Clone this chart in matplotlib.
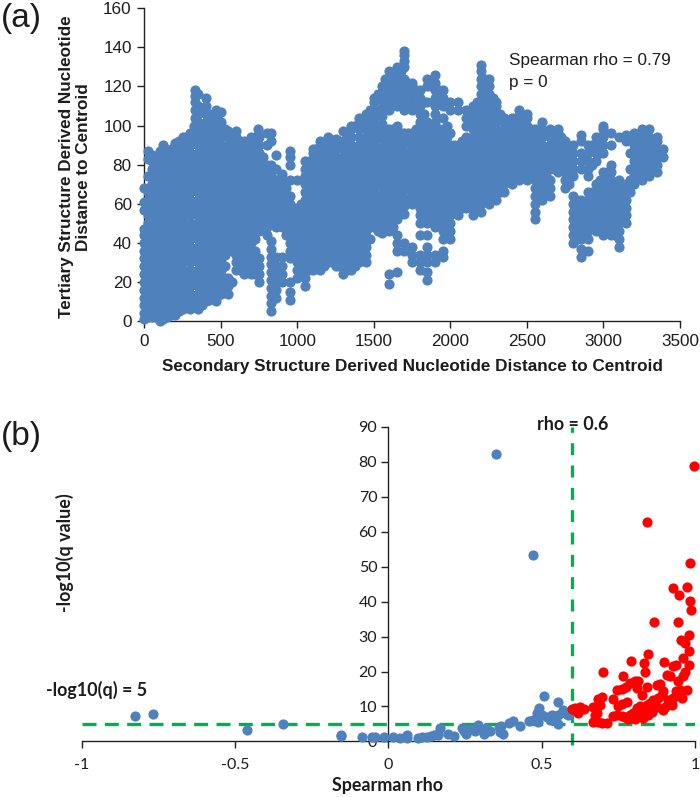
import matplotlib
matplotlib.use("Agg")
import matplotlib.pyplot as plt

W, H = 700, 797
SANS = "Liberation Sans"
NARROW = "Lato"
BLUE = "#4F81BD"
RED = "#FF0000"
GREEN = "#00B050"
INK = "#1c1c1c"

# Panel (a): nucleotide distances
a_columns = [0, 25, 50, 100, 120, 150, 200, 250, 300, 330, 350, 400, 450, 470, 500, 550, 600, 650, 700, 740,
             750, 800, 830, 860, 900, 950, 1000, 1050, 1100, 1150, 1200, 1250, 1300, 1350, 1400, 1450, 1500,
             1550, 1600, 1650, 1700, 1750, 1800, 1850, 1900, 1950, 2000, 2050, 2100, 2150, 2200, 2250, 2300,
             2350, 2400, 2450, 2500, 2550, 2600, 2650, 2700, 2750, 2800, 2850, 2900, 2950, 3000, 3050, 3100,
             3150, 3200, 3250, 3300, 3350, 3390]
a_values = [
    [1, 4, 8, 12, 16, 20, 24, 28, 32, 36, 40, 44, 47, 57, 61, 68],
    [2, 6, 10, 14, 18, 22, 26, 30, 34, 38, 42, 46, 50, 54, 58, 62, 66, 68, 74, 83, 87],
    [2, 6, 10, 14, 18, 22, 26, 30, 34, 38, 42, 46, 50, 54, 58, 62, 66, 70, 74, 78, 82, 85],
    [0, 4, 8, 12, 16, 20, 24, 28, 32, 36, 40, 44, 48, 52, 56, 60, 64, 68, 72, 76, 80, 84, 87],
    [1, 90, 86],
    [2, 6, 10, 14, 18, 22, 26, 30, 34, 38, 42, 46, 50, 54, 58, 62, 66, 70, 74, 78, 82, 86],
    [3, 8, 12, 16, 20, 24, 28, 32, 36, 40, 44, 48, 52, 56, 60, 64, 68, 72, 76, 80, 84, 88, 91],
    [6, 10, 14, 18, 22, 26, 30, 34, 38, 42, 46, 50, 54, 58, 62, 66, 70, 74, 78, 82, 86, 90, 94],
    [6, 10, 14, 18, 22, 26, 30, 34, 38, 42, 46, 50, 54, 58, 62, 66, 70, 74, 78, 82, 86, 90, 94, 96],
    [104, 108, 112, 115, 118],
    [6, 10, 14, 18, 22, 26, 30, 34, 38, 42, 46, 50, 54, 58, 62, 66, 70, 74, 78, 82, 86, 90, 94, 98, 102, 106, 110, 116],
    [10, 14, 18, 22, 26, 30, 34, 38, 42, 46, 50, 54, 58, 62, 66, 70, 74, 78, 82, 86, 90, 94, 98, 102, 106, 110, 114],
    [12, 16, 20, 24, 28, 32, 36, 40, 44, 48, 52, 56, 60, 64, 68, 72, 76, 80, 84, 88, 92, 96, 100, 104],
    [10, 108],
    [14, 18, 22, 26, 30, 34, 38, 42, 46, 50, 54, 58, 62, 66, 70, 74, 78, 82, 86, 90, 94, 98, 102, 107],
    [14, 18, 22, 38, 42, 46, 50, 54, 58, 62, 66, 70, 74, 78, 82, 86, 90, 94, 97],
    [26, 30, 34, 38, 42, 46, 50, 54, 58, 62, 66, 70, 74, 78, 82, 86, 90, 94, 97],
    [24, 28, 32, 36, 40, 44, 48, 52, 56, 60, 64, 68, 72, 76, 80, 84, 88, 92],
    [24, 28, 32, 36, 40, 44, 48, 52, 56, 60, 64, 68, 72, 76, 80, 84, 88, 92, 94],
    [98, 95],
    [20, 24, 28, 32, 46, 50, 54, 58, 62, 66, 70, 74, 78, 82, 86, 90, 94],
    [44, 48, 52, 56, 60, 64, 68, 72, 76, 80, 90, 96],
    [5, 9, 13, 17, 21, 25, 29, 33, 37, 41, 50, 54, 58, 62, 66, 70, 74, 78, 80, 92, 96],
    [12, 16, 20, 24, 28, 33, 48, 52, 56, 60, 64, 68, 72, 78, 85],
    [20, 24, 28, 33, 48, 52, 56, 60, 64, 68, 72, 75],
    [11, 15, 20, 32, 36, 40, 44, 48, 52, 56, 60, 64, 72, 80, 84, 87],
    [22, 26, 30, 34, 38, 42, 46, 50, 54, 58, 72],
    [18, 22, 26, 30, 34, 38, 42, 46, 50, 54, 58, 62, 66, 70, 74, 78, 82],
    [26, 30, 34, 38, 42, 46, 50, 54, 58, 62, 66, 70, 74, 78, 82, 86, 88],
    [26, 30, 34, 38, 42, 46, 50, 54, 58, 62, 66, 70, 74, 78, 82, 86, 90, 92],
    [30, 34, 38, 42, 46, 50, 54, 58, 62, 66, 70, 74, 78, 82, 86, 90, 94],
    [28, 32, 36, 40, 44, 48, 52, 56, 60, 64, 68, 72, 76, 80, 84, 88, 93],
    [24, 28, 32, 36, 40, 44, 48, 52, 56, 60, 64, 68, 72, 76, 80, 84, 88, 92, 97],
    [26, 30, 34, 38, 42, 46, 50, 54, 58, 62, 66, 70, 74, 78, 82, 86, 90, 94, 98, 100],
    [30, 34, 38, 42, 46, 50, 54, 58, 62, 66, 70, 74, 78, 82, 86, 90, 94, 98, 102, 104],
    [30, 34, 38, 42, 46, 50, 54, 58, 62, 66, 70, 74, 78, 82, 86, 90, 94, 98, 102, 106],
    [48, 52, 56, 60, 64, 68, 72, 76, 80, 84, 88, 92, 96, 100, 104, 108, 112, 114],
    [45, 49, 53, 57, 61, 65, 69, 73, 77, 81, 85, 89, 93, 97, 101, 105, 109, 113, 117, 120],
    [19, 24, 46, 50, 54, 58, 62, 66, 70, 74, 78, 82, 86, 90, 94, 98, 108, 112, 116, 120, 124, 128],
    [25, 36, 40, 44, 52, 56, 60, 64, 68, 72, 76, 80, 84, 88, 92, 96, 100, 110, 114, 118, 122, 126, 130],
    [36, 40, 55, 59, 63, 67, 71, 75, 79, 83, 87, 91, 96, 108, 112, 116, 120, 124, 130, 133, 136, 138],
    [30, 34, 38, 60, 64, 68, 72, 76, 80, 84, 88, 92, 96, 108, 112, 116, 120, 122],
    [26, 30, 34, 44, 50, 54, 58, 62, 66, 70, 74, 78, 82, 86, 90, 94, 98, 102, 106, 110, 114, 118],
    [21, 25, 30, 34, 38, 44, 50, 54, 58, 62, 66, 70, 74, 78, 82, 86, 90, 94, 98, 102, 112, 120, 124],
    [30, 34, 48, 54, 58, 62, 66, 70, 74, 78, 82, 86, 90, 94, 98, 102, 106, 110, 114, 118, 122, 126],
    [33, 36, 42, 46, 50, 54, 58, 62, 66, 70, 74, 78, 82, 86, 90, 94, 98, 104, 110, 114, 118],
    [42, 46, 50, 54, 58, 62, 66, 70, 74, 78, 82, 86, 90, 96, 108, 112],
    [54, 58, 62, 66, 70, 74, 78, 82, 86, 90, 108, 112],
    [58, 62, 66, 70, 74, 78, 82, 86, 90, 94, 100, 104, 108],
    [54, 58, 62, 66, 70, 74, 78, 82, 86, 90, 94, 98, 102, 106, 110],
    [56, 60, 64, 68, 72, 76, 80, 84, 88, 92, 96, 100, 104, 108, 112, 116, 120, 124, 128, 131],
    [60, 64, 68, 72, 76, 80, 84, 88, 92, 96, 100, 104, 108, 112, 116, 120, 124],
    [62, 66, 70, 74, 78, 82, 86, 90, 94, 98, 102, 106, 110, 112],
    [66, 70, 74, 78, 82, 86, 90, 94, 98, 102, 104],
    [70, 74, 78, 82, 86, 90, 94, 98, 102, 104],
    [72, 76, 80, 84, 88, 92, 96, 100, 104, 108],
    [72, 76, 80, 84, 88, 92, 96, 100, 104, 106],
    [52, 56, 60, 64, 68, 72, 76, 80, 84, 88, 92, 96, 98],
    [62, 66, 70, 74, 78, 82, 86, 90, 94, 98, 102],
    [64, 68, 72, 78, 82, 86, 90, 94, 98],
    [76, 80, 84, 88, 92, 96, 98],
    [68, 72, 76, 80, 84, 88, 92],
    [40, 44, 48, 52, 56, 60, 64, 74, 78, 82, 86, 90],
    [33, 37, 42, 46, 50, 54, 58, 62, 78, 82, 86, 92, 95],
    [36, 42, 46, 50, 54, 58, 62, 66, 74, 78, 82, 86, 90],
    [46, 50, 54, 58, 62, 66, 70, 82, 86, 90, 94],
    [44, 48, 52, 56, 60, 64, 68, 72, 76, 86, 90, 94, 98, 100],
    [44, 48, 52, 56, 60, 64, 68, 72, 76, 80, 90, 96],
    [38, 42, 46, 50, 54, 58, 62, 66, 70, 72, 94],
    [50, 54, 58, 62, 66, 70, 92, 95],
    [70, 74, 78, 82, 86, 90, 94, 96],
    [72, 76, 80, 84, 88, 92, 96, 98],
    [74, 78, 82, 86, 90, 94, 98],
    [76, 80, 84, 88, 92, 94],
    [84, 88],
]
# Points lying between those columns, where the cloud is solid
a_between_columns = [12, 37, 62, 75, 87, 112, 125, 137, 162, 175, 187, 212, 225, 237, 262, 275, 287, 325, 375, 425,
                     475, 525, 575, 625, 675, 725, 775, 875, 925, 975, 1025,
                     1075, 1125, 1175, 1225, 1275, 1325, 1375, 1425, 1475, 1525, 1575, 1625, 1675, 1725, 1775, 1825,
                     1875, 1925, 1975, 2025, 2075, 2125, 2175, 2225, 2275, 2325, 2375, 2425, 2475, 2525, 2575, 2625,
                     2675, 2725, 2775, 2825, 2875, 2925, 2975, 3025, 3075, 3125, 3175, 3225, 3275, 3325]
a_between_values = [
    [4, 12, 20, 28, 36, 44],
    [4, 12, 20, 28, 36, 44, 52, 60],
    [4, 12, 20, 28, 36, 44, 52, 60, 68],
    [2, 8, 14, 20, 26, 32, 38, 44, 50, 56, 62, 68, 74, 80, 84],
    [4, 12, 20, 28, 36, 44, 52, 60, 68, 76],
    [4, 12, 20, 28, 36, 44, 52, 60, 68, 76],
    [2, 8, 14, 20, 26, 32, 38, 44, 50, 56, 62, 68, 74, 80, 86],
    [4, 12, 20, 28, 36, 44, 52, 60, 68, 76],
    [5, 12, 20, 28, 36, 44, 52, 60, 68, 76],
    [3, 9, 15, 21, 27, 33, 39, 45, 51, 57, 63, 69, 75, 81, 88],
    [5, 12, 20, 28, 36, 44, 52, 60, 68, 76, 84],
    [6, 12, 20, 28, 36, 44, 52, 60, 68, 76, 84],
    [5, 11, 17, 23, 29, 35, 41, 47, 53, 59, 65, 71, 77, 83, 92],
    [8, 16, 24, 32, 40, 48, 56, 64, 72, 80, 88],
    [8, 16, 24, 32, 40, 48, 56, 64, 72, 80, 88],
    [7, 13, 19, 25, 31, 37, 43, 49, 55, 61, 67, 73, 79, 85, 94],
    [8, 16, 24, 32, 40, 48, 56, 64, 72, 80, 88],
    [7, 13, 19, 25, 31, 37, 43, 49, 55, 61, 67, 73, 79, 85, 91, 100],
    [8, 14, 20, 26, 32, 38, 44, 50, 56, 62, 68, 74, 80, 86, 92, 98, 108],
    [11, 17, 23, 29, 35, 41, 47, 53, 59, 65, 71, 77, 83, 89, 95, 106],
    [13, 19, 25, 31, 37, 43, 49, 55, 61, 67, 73, 79, 85, 91, 97, 104],
    [16, 22, 28, 34, 40, 46, 52, 58, 64, 70, 76, 82, 88, 98],
    [20, 36, 42, 48, 54, 60, 66, 72, 78, 84, 90, 94],
    [26, 32, 38, 44, 50, 56, 62, 68, 74, 80, 86, 92],
    [26, 32, 38, 44, 50, 56, 62, 68, 74, 80, 86, 90],
    [24, 30, 36, 42, 48, 54, 60, 66, 72, 78, 84, 92],
    [48, 54, 60, 66, 72, 78, 84],
    [50, 56, 62, 68, 72],
    [44, 50, 56, 62, 68],
    [36, 42, 48, 54, 58],
    [24, 30, 36, 42, 48, 54, 60],
    [26, 32, 38, 44, 50, 56, 62, 68, 74, 82],
    [28, 34, 40, 46, 52, 58, 64, 70, 76, 82, 88],
    [28, 34, 40, 46, 52, 58, 64, 70, 76, 82, 90],
    [30, 36, 42, 48, 54, 60, 66, 72, 78, 84, 90],
    [28, 34, 40, 46, 52, 58, 64, 70, 76, 82, 92],
    [26, 32, 38, 44, 50, 56, 62, 68, 74, 80, 86, 94],
    [28, 34, 40, 46, 52, 58, 64, 70, 76, 82, 88, 100],
    [32, 38, 44, 50, 56, 62, 68, 74, 80, 86, 92, 102],
    [42, 48, 54, 60, 66, 72, 78, 84, 90, 96, 108],
    [46, 52, 58, 64, 70, 76, 82, 88, 94, 100, 106, 116],
    [48, 54, 60, 66, 72, 78, 84, 90, 98, 110, 116, 124],
    [48, 54, 60, 66, 72, 78, 84, 90, 98, 112, 118, 126],
    [56, 62, 68, 74, 80, 86, 92, 96, 112, 118, 128],
    [62, 68, 74, 80, 86, 92, 96, 110, 116, 122],
    [62, 68, 74, 80, 86, 92, 98, 110, 118],
    [52, 58, 64, 70, 76, 82, 88, 94, 100, 106, 112],
    [52, 58, 64, 70, 76, 82, 88, 94, 100, 120],
    [50, 56, 62, 68, 74, 80, 86, 92, 98, 112, 118],
    [46, 52, 58, 64, 70, 76, 82, 88, 94, 100],
    [56, 62, 68, 74, 80, 86, 90],
    [58, 64, 70, 76, 82, 88, 92],
    [60, 66, 72, 78, 84, 90, 100],
    [60, 66, 72, 78, 84, 90, 96, 102, 112],
    [62, 68, 74, 80, 86, 92, 98, 104, 110, 116, 124],
    [64, 70, 76, 82, 88, 94, 100, 106, 114],
    [66, 72, 78, 84, 90, 96, 106],
    [72, 78, 84, 90, 96, 102],
    [74, 80, 86, 92, 98, 104],
    [74, 80, 86, 92, 98, 104],
    [76, 82, 88, 94, 98],
    [66, 72, 78, 84, 90, 98],
    [68, 74, 80, 86, 96],
    [78, 84, 90, 94],
    [78, 84, 90, 94],
    [70, 76, 82, 88],
    [42, 48, 54, 62],
    [44, 50, 56, 60, 84],
    [48, 54, 60, 66, 80, 90],
    [48, 54, 60, 66, 72, 86, 94],
    [46, 52, 58, 64, 70, 76],
    [44, 50, 56, 62, 70],
    [52, 58, 64, 68],
    [66, 72, 78, 86],
    [74, 80, 86, 94],
    [76, 82, 88, 94],
    [78, 84, 92],
]
a_xticks = [0, 500, 1000, 1500, 2000, 2500, 3000, 3500]
a_yticks = [0, 20, 40, 60, 80, 100, 120, 140, 160]

# Panel (b): Spearman rho against -log10(q)
b_rho_blue = [-0.825, -0.767, -0.46, -0.345, -0.154, -0.154, -0.086, -0.055, -0.043, -0.014, 0.015, 0.038, 0.062,
              0.062, 0.097, 0.108, 0.126, 0.138, 0.149, 0.161, 0.169, 0.161, 0.196, 0.213, 0.239, 0.246, 0.254,
              0.266, 0.283, 0.293, 0.3, 0.312, 0.318, 0.332, 0.362, 0.373, 0.393, 0.408, 0.429, 0.46, 0.473,
              0.487, 0.352, 0.473, 0.508, 0.552, 0.492, 0.484, 0.5, 0.516, 0.533, 0.527, 0.554, 0.543, 0.554,
              0.576, 0.587, 0.57, 0.364, 0.367]
b_q_blue = [7.4, 7.8, 3.2, 4.9, 1.5, 1.9, 1.4, 1.2, 1.2, 1.2, 1.2, 1.1, 1.7,
            1.1, 1.1, 1.3, 1.4, 1.5, 1.7, 2.2, 3.9, 1.7, 2.0, 1.5, 3.9, 3.0, 2.2,
            3.6, 3.0, 4.6, 3.6, 2.0, 3.9, 3.0, 4.1, 2.2, 5.4, 5.8, 4.3, 5.9, 6.0,
            5.6, 82.2, 53.4, 13.0, 11.3, 9.5, 8.0, 7.5, 7.0, 7.5, 6.0, 4.9, 7.0, 7.5,
            8.0, 7.5, 9.0, 2.7, 4.4]
b_rho_red = [0.997, 0.843, 0.985, 0.929, 0.975, 0.948, 0.984, 0.988, 0.867, 0.945, 0.982, 0.954, 0.968, 0.98,
             0.848, 0.791, 0.833, 0.899, 0.938, 0.927, 0.962, 0.979, 0.701, 0.838, 0.764, 0.967, 0.96, 0.908,
             0.918, 0.946, 0.804, 0.815, 0.788, 0.886, 0.875, 0.842, 0.775, 0.761, 0.747, 0.81, 0.897, 0.891,
             0.938, 0.951, 0.973, 0.828, 0.957, 0.929, 0.696, 0.685, 0.734, 0.777, 0.761, 0.864, 0.88, 0.853,
             0.842, 0.821, 0.913, 0.902, 0.924, 0.668, 0.69, 0.75, 0.836, 0.875, 0.897, 0.81, 0.826, 0.799,
             0.788, 0.734, 0.745, 0.761, 0.772, 0.783, 0.804, 0.832, 0.848, 0.859, 0.679, 0.666, 0.685, 0.696,
             0.712, 0.674, 0.598, 0.609, 0.625, 0.638, 0.62, 0.613]
b_q_red = [78.7, 62.8, 51.2, 43.9, 44.2, 42.0, 40.3, 37.5, 34.3, 34.3, 30.6, 29.0, 28.3, 26.0,
           25.0, 22.9, 22.5, 22.7, 22.0, 21.5, 23.9, 21.8, 20.0, 20.0, 18.8, 20.0, 18.6, 19.0,
           18.6, 17.2, 17.2, 17.4, 16.7, 16.5, 16.2, 15.7, 15.5, 15.0, 14.6, 15.3, 14.3, 13.3,
           14.3, 14.8, 14.8, 13.3, 12.4, 12.4, 12.6, 12.1, 12.1, 11.4, 10.7, 11.9, 12.4, 10.9,
           10.4, 10.1, 11.9, 9.9, 10.4, 9.9, 10.4, 10.1, 9.0, 9.9, 9.0, 9.5, 7.5, 8.0,
           7.5, 7.2, 7.5, 7.2, 7.0, 6.3, 6.3, 6.6, 7.5, 8.5, 8.0, 5.6, 5.6, 5.3,
           5.3, 7.5, 9.3, 9.5, 9.9, 9.4, 8.0, 9.0]
b_xticks = [-1, -0.5, 0, 0.5, 1]
b_xticklabels = ["-1", "-0.5", "0", "0.5", "1"]
b_yticks = [0, 10, 20, 30, 40, 50, 60, 70, 80, 90]
rho_cut = 0.6
q_cut = 5

a_x = [x for x, ys in zip(a_columns + a_between_columns, a_values + a_between_values) for _ in ys]
a_y = [y for ys in a_values + a_between_values for y in ys]


def box(left, top, right, bottom):
    return [left / W, 1 - bottom / H, (right - left) / W, (bottom - top) / H]


def put(fig, x, y, s, **kw):
    fig.text(x / W, 1 - y / H, s, color=INK, **kw)


fig = plt.figure(figsize=(W / 100, H / 100), dpi=100)

ax = fig.add_axes(box(144.3, 8.3, 680, 321))
ax.scatter(a_x, a_y, s=54, color=BLUE, linewidths=0, clip_on=False, zorder=3)
ax.set_xlim(0, 3500)
ax.set_ylim(0, 160)
ax.set_xticks(a_xticks)
ax.set_yticks(a_yticks)
for s in ("top", "right"):
    ax.spines[s].set_visible(False)
for s in ("left", "bottom"):
    ax.spines[s].set_linewidth(1.0)
    ax.spines[s].set_color("#222222")
ax.tick_params(length=5, width=1, color="#222222", labelsize=12.3, labelcolor=INK, pad=4)
for t in ax.get_xticklabels() + ax.get_yticklabels():
    t.set_fontfamily(SANS)

bx = fig.add_axes(box(81.8, 427, 695, 741.4))
bx.plot([-1, 1], [q_cut, q_cut], color=GREEN, lw=2.4, dashes=(4.2, 2.5), zorder=1)
bx.plot([rho_cut, rho_cut], [-1, 90], color=GREEN, lw=2.4, dashes=(3.6, 3.1), clip_on=False, zorder=1)
bx.scatter(b_rho_blue, b_q_blue, s=54, color=BLUE, linewidths=0, clip_on=False, zorder=3)
bx.scatter(b_rho_red, b_q_red, s=54, color=RED, linewidths=0, clip_on=False, zorder=4)
bx.set_xlim(-1, 1)
bx.set_ylim(0, 90)
bx.set_xticks(b_xticks, b_xticklabels)
bx.set_yticks(b_yticks)
bx.spines["left"].set_position(("data", 0))
for s in ("top", "right"):
    bx.spines[s].set_visible(False)
for s in ("left", "bottom"):
    bx.spines[s].set_linewidth(1.0)
    bx.spines[s].set_color("#222222")
bx.tick_params(length=5, width=1, color="#222222", labelsize=11.5, labelcolor=INK, pad=7)
bx.tick_params(axis="y", pad=3)
for t in bx.get_xticklabels() + bx.get_yticklabels():
    t.set_fontfamily(NARROW)

put(fig, 412, 367, "Secondary Structure Derived Nucleotide Distance to Centroid", family=SANS,
    weight="bold", fontsize=12.3, ha="center", va="center")
put(fig, 75, 167, "Tertiary Structure Derived Nucleotide\nDistance to Centroid", family=SANS,
    weight="bold", fontsize=12.3, ha="center", va="center", rotation=90, multialignment="center", linespacing=1.1)
put(fig, 509, 60, "Spearman rho = 0.79", family=SANS, fontsize=12.3, ha="left", va="center")
put(fig, 509, 82, "p = 0", family=SANS, fontsize=12.3, ha="left", va="center")
put(fig, 1, 18, "(a)", family=SANS, fontsize=24, ha="left", va="center")
put(fig, 1, 437, "(b)", family=SANS, fontsize=24, ha="left", va="center")
put(fig, 388, 785, "Spearman rho", family=NARROW, weight="bold", fontsize=12.9, ha="center", va="center")
put(fig, 65, 553, "-log10(q value)", family=NARROW, weight="bold", fontsize=12.9, ha="center", va="center", rotation=90)
put(fig, 46, 690, "-log10(q) = 5", family=NARROW, weight="bold", fontsize=12.9, ha="left", va="center")
put(fig, 537, 425, "rho = 0.6", family=NARROW, weight="bold", fontsize=12.9, ha="left", va="center")

fig.savefig("out.png", dpi=100)
